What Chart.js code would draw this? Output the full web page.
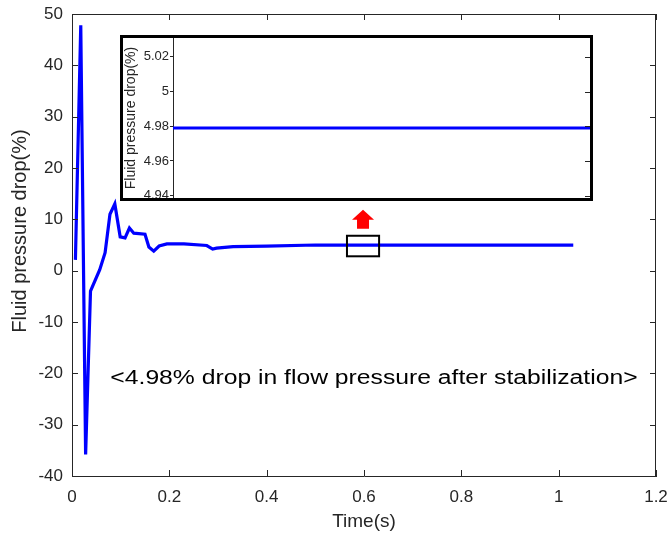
<!DOCTYPE html>
<html>
<head>
<meta charset="utf-8">
<script src="https://cdn.jsdelivr.net/npm/chart.js@4.4.1/dist/chart.umd.min.js"></script>
<style>
    html, body { margin: 0; padding: 0; background: #fff; }
    #wrap { position: relative; width: 668px; height: 533px; }
    #mainChart { position: absolute; left: 0; top: 0; }
    #insetBox {
        position: absolute; left: 120px; top: 35px;
        width: 467px; height: 160px;
        border: 3px solid #000; background: #fff;
    }
</style>
</head>
<body>
<div id="wrap">
    <canvas id="mainChart" width="668" height="533"></canvas>
    <div id="insetBox"><canvas id="insetChart" width="467" height="160"></canvas></div>
</div>
<script>
// dados
const timeS = [0.007, 0.018, 0.028, 0.038, 0.057, 0.068, 0.078, 0.088, 0.099, 0.109, 0.118, 0.127,
    0.15, 0.158, 0.168, 0.179, 0.195, 0.23, 0.277, 0.289, 0.297, 0.331, 0.4, 0.5, 0.6, 0.8, 1.03];
const dropPct = [2.1, 47.8, -35.8, -4, 0.2, 3.5, 11, 13, 6.6, 6.4, 8.3, 7.3,
    7.1, 4.6, 3.8, 4.8, 5.2, 5.2, 4.9, 4.2, 4.4, 4.7, 4.8, 5.0, 4.98, 4.98, 4.98];
const xTicks = [0, 0.2, 0.4, 0.6, 0.8, 1, 1.2];
const yTicks = [-40, -30, -20, -10, 0, 10, 20, 30, 40, 50];

// zoom (inset)
const insetTime = [0.57, 0.63];
const insetDrop = [4.979, 4.979];
const insetTicks = [4.94, 4.96, 4.98, 5, 5.02];
const zoomBox = [0.565, 0.631, 2.8, 6.8]; // xmin, xmax, ymin, ymax
const noteText = '<4.98% drop in flow pressure after stabilization>';
const noteAt = [0.6205, -22.0];
const yTitle = 'Fluid pressure drop(%)';

const axisColor = '#262626';
const fontFamily = 'Arial, "Liberation Sans", Helvetica, sans-serif';

const toPoints = (xs, ys) => xs.map((x, i) => ({ x: x, y: ys[i] }));

// ticks para dentro + moldura + caixa/seta/texto
const mainDecor = {
    id: 'mainDecor',
    afterDatasetsDraw(chart) {
        const { ctx, chartArea: a, scales: { x, y } } = chart;
        ctx.save();
        ctx.strokeStyle = axisColor;
        ctx.lineWidth = 1;
        ctx.beginPath();
        ctx.moveTo(a.left, a.top + 0.5); ctx.lineTo(a.right, a.top + 0.5);
        ctx.moveTo(a.right - 0.5, a.top); ctx.lineTo(a.right - 0.5, a.bottom);
        xTicks.forEach(v => {
            const px = Math.round(x.getPixelForValue(v)) + 0.5;
            ctx.moveTo(px, a.bottom); ctx.lineTo(px, a.bottom - 6);
            ctx.moveTo(px, a.top); ctx.lineTo(px, a.top + 6);
        });
        yTicks.forEach(v => {
            const py = Math.round(y.getPixelForValue(v)) + 0.5;
            ctx.moveTo(a.left, py); ctx.lineTo(a.left + 6, py);
            ctx.moveTo(a.right, py); ctx.lineTo(a.right - 6, py);
        });
        ctx.stroke();

        // retângulo de zoom
        const bx1 = x.getPixelForValue(zoomBox[0]);
        const bx2 = x.getPixelForValue(zoomBox[1]);
        const by1 = y.getPixelForValue(zoomBox[3]);
        const by2 = y.getPixelForValue(zoomBox[2]);
        ctx.strokeStyle = '#000';
        ctx.lineWidth = 2;
        ctx.strokeRect(bx1, by1, bx2 - bx1, by2 - by1);

        // seta vermelha
        const cx = (bx1 + bx2) / 2;
        ctx.fillStyle = '#ff0000';
        ctx.beginPath();
        ctx.moveTo(cx, by1 - 26);
        ctx.lineTo(cx + 11, by1 - 16);
        ctx.lineTo(cx + 6, by1 - 16);
        ctx.lineTo(cx + 6, by1 - 7);
        ctx.lineTo(cx - 6, by1 - 7);
        ctx.lineTo(cx - 6, by1 - 16);
        ctx.lineTo(cx - 11, by1 - 16);
        ctx.closePath();
        ctx.fill();

        // texto (um pouco esticado na horizontal, como no original)
        ctx.fillStyle = '#000';
        ctx.font = '20px ' + fontFamily;
        ctx.textAlign = 'center';
        ctx.textBaseline = 'alphabetic';
        ctx.translate(x.getPixelForValue(noteAt[0]), y.getPixelForValue(noteAt[1]));
        ctx.scale(1.235, 1);
        ctx.fillText(noteText, 0, 0);
        ctx.restore();

        // título do eixo y
        ctx.save();
        ctx.fillStyle = axisColor;
        ctx.font = '20px ' + fontFamily;
        ctx.textAlign = 'center';
        ctx.textBaseline = 'middle';
        ctx.translate(20, (a.top + a.bottom) / 2 - 14);
        ctx.rotate(-Math.PI / 2);
        ctx.fillText(yTitle, 0, 0);
        ctx.restore();
    }
};

new Chart(document.getElementById('mainChart').getContext('2d'), {
    type: 'line',
    data: {
        datasets: [{
            data: toPoints(timeS, dropPct),
            borderColor: '#0000ff',
            borderWidth: 3.2,
            pointRadius: 0,
            tension: 0,
            fill: false
        }]
    },
    options: {
        responsive: false,
        devicePixelRatio: 1,
        animation: false,
        layout: { padding: { left: 0, top: 14, right: 12, bottom: 0 } },
        plugins: { legend: { display: false }, tooltip: { enabled: false } },
        scales: {
            x: {
                type: 'linear', min: 0, max: 1.2,
                afterBuildTicks: s => { s.ticks = xTicks.map(v => ({ value: v })); },
                afterFit: s => { s.height = 57; s.paddingLeft = 0; s.paddingRight = 0; },
                grid: { display: false, drawTicks: false },
                border: { display: true, color: axisColor, width: 1 },
                ticks: { color: axisColor, font: { size: 17, family: fontFamily }, padding: 11, maxRotation: 0,
                    callback: v => String(Number(v.toFixed(1))) },
                title: { display: true, text: 'Time(s)', color: axisColor,
                    font: { size: 19, family: fontFamily }, padding: { top: 0, bottom: 0 } }
            },
            y: {
                min: -40, max: 50,
                afterBuildTicks: s => { s.ticks = yTicks.map(v => ({ value: v })); },
                afterFit: s => { s.width = 72; s.paddingTop = 0; s.paddingBottom = 0; },
                grid: { display: false, drawTicks: false },
                border: { display: true, color: axisColor, width: 1 },
                ticks: { color: axisColor, font: { size: 17, family: fontFamily }, padding: 9 }
            }
        }
    },
    plugins: [mainDecor]
});

// ticks do lado direito do inset
const insetDecor = {
    id: 'insetDecor',
    afterDatasetsDraw(chart) {
        const { ctx, chartArea: a, scales: { y } } = chart;
        ctx.save();
        ctx.strokeStyle = axisColor;
        ctx.lineWidth = 1;
        ctx.beginPath();
        insetTicks.forEach(v => {
            const py = Math.round(y.getPixelForValue(v)) + 0.5;
            ctx.moveTo(a.right, py); ctx.lineTo(a.right - 5, py);
        });
        ctx.stroke();
        ctx.restore();
    }
};

new Chart(document.getElementById('insetChart').getContext('2d'), {
    type: 'line',
    data: {
        datasets: [{
            data: toPoints(insetTime, insetDrop),
            borderColor: '#0000ff',
            borderWidth: 3,
            pointRadius: 0,
            fill: false
        }]
    },
    options: {
        responsive: false,
        devicePixelRatio: 1,
        animation: false,
        layout: { padding: 0 },
        plugins: { legend: { display: false }, tooltip: { enabled: false } },
        scales: {
            x: { type: 'linear', min: 0.57, max: 0.63, display: false },
            y: {
                min: 4.9387, max: 5.0308,
                afterBuildTicks: s => { s.ticks = insetTicks.map(v => ({ value: v })); },
                afterFit: s => { s.width = 50; s.paddingTop = 0; s.paddingBottom = 0; },
                grid: { drawOnChartArea: false, drawTicks: true, tickLength: 3, color: axisColor },
                border: { display: true, color: axisColor, width: 1 },
                ticks: { color: axisColor, font: { size: 13, family: fontFamily }, padding: 1,
                    callback: v => String(Number(v.toFixed(2))) },
                title: { display: true, text: yTitle, color: axisColor,
                    font: { size: 14, family: fontFamily }, padding: { top: 0, bottom: 0 } }
            }
        }
    },
    plugins: [insetDecor]
});
</script>
</body>
</html>
